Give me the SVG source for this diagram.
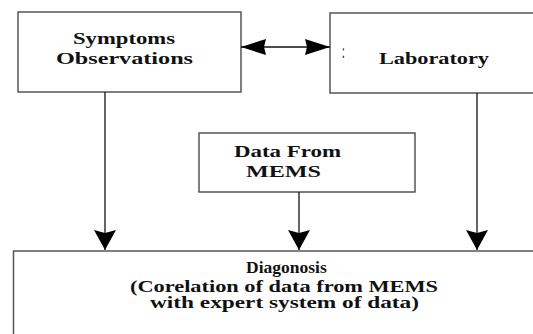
<svg xmlns="http://www.w3.org/2000/svg" width="533" height="334" viewBox="0 0 533 334">
  <style>
    .box { fill: #ffffff; stroke: #555555; stroke-width: 1.5; }
    .lbl { font-family: 'Liberation Serif', 'Times New Roman', serif; font-size: 16px; font-weight: bold; fill: #111111; }
    .con { stroke: #111111; stroke-width: 1.3; fill: none; }
  </style>
  <defs>
    <marker id="down" markerUnits="userSpaceOnUse" viewBox="0 0 20 22" refX="20" refY="11" markerWidth="20" markerHeight="22" orient="auto">
      <path d="M0,0 L20,11 L0,22 L3,11 Z" fill="#000000"/>
    </marker>
    <marker id="side" markerUnits="userSpaceOnUse" viewBox="0 0 25 16" refX="25" refY="8" markerWidth="25" markerHeight="16" orient="auto-start-reverse">
      <path d="M0,0 L25,8 L0,16 L2,8 Z" fill="#000000"/>
    </marker>
  </defs>
  <rect x="0" y="0" width="533" height="334" fill="#ffffff"/>

  <g id="symptoms">
    <rect class="box" x="18" y="12" width="223" height="80"/>
    <text class="lbl" x="73" y="44" textLength="102" lengthAdjust="spacingAndGlyphs">Symptoms</text>
    <text class="lbl" x="56" y="64" textLength="137" lengthAdjust="spacingAndGlyphs">Observations</text>
  </g>

  <g id="laboratory">
    <rect class="box" x="330" y="13" width="210" height="80"/>
    <text font-family="Liberation Serif, serif" font-size="10" fill="#111111" transform="translate(342,58) scale(1,2)">:</text>
    <text class="lbl" x="379" y="64" textLength="110" lengthAdjust="spacingAndGlyphs">Laboratory</text>
  </g>

  <g id="mems">
    <rect class="box" x="199" y="133" width="216" height="59"/>
    <text class="lbl" x="234" y="157" textLength="107" lengthAdjust="spacingAndGlyphs">Data From</text>
    <text class="lbl" x="246" y="177" textLength="75" lengthAdjust="spacingAndGlyphs">MEMS</text>
  </g>

  <g id="diagnosis">
    <rect class="box" x="13.5" y="251" width="540" height="100"/>
    <text class="lbl" x="246" y="273" style="font-size:17.5px">Diagonosis</text>
    <text class="lbl" x="130" y="292" textLength="308" lengthAdjust="spacingAndGlyphs">(Corelation of data from MEMS</text>
    <text class="lbl" x="150" y="308" textLength="269" lengthAdjust="spacingAndGlyphs">with expert system of data)</text>
  </g>

  <g id="connectors">
    <line class="con" x1="241" y1="47" x2="330" y2="47" marker-start="url(#side)" marker-end="url(#side)"/>
    <line class="con" x1="105" y1="92" x2="105" y2="250" marker-end="url(#down)"/>
    <line class="con" x1="299" y1="192" x2="299" y2="250" marker-end="url(#down)"/>
    <line class="con" x1="477" y1="93" x2="477" y2="250" marker-end="url(#down)"/>
  </g>
</svg>
